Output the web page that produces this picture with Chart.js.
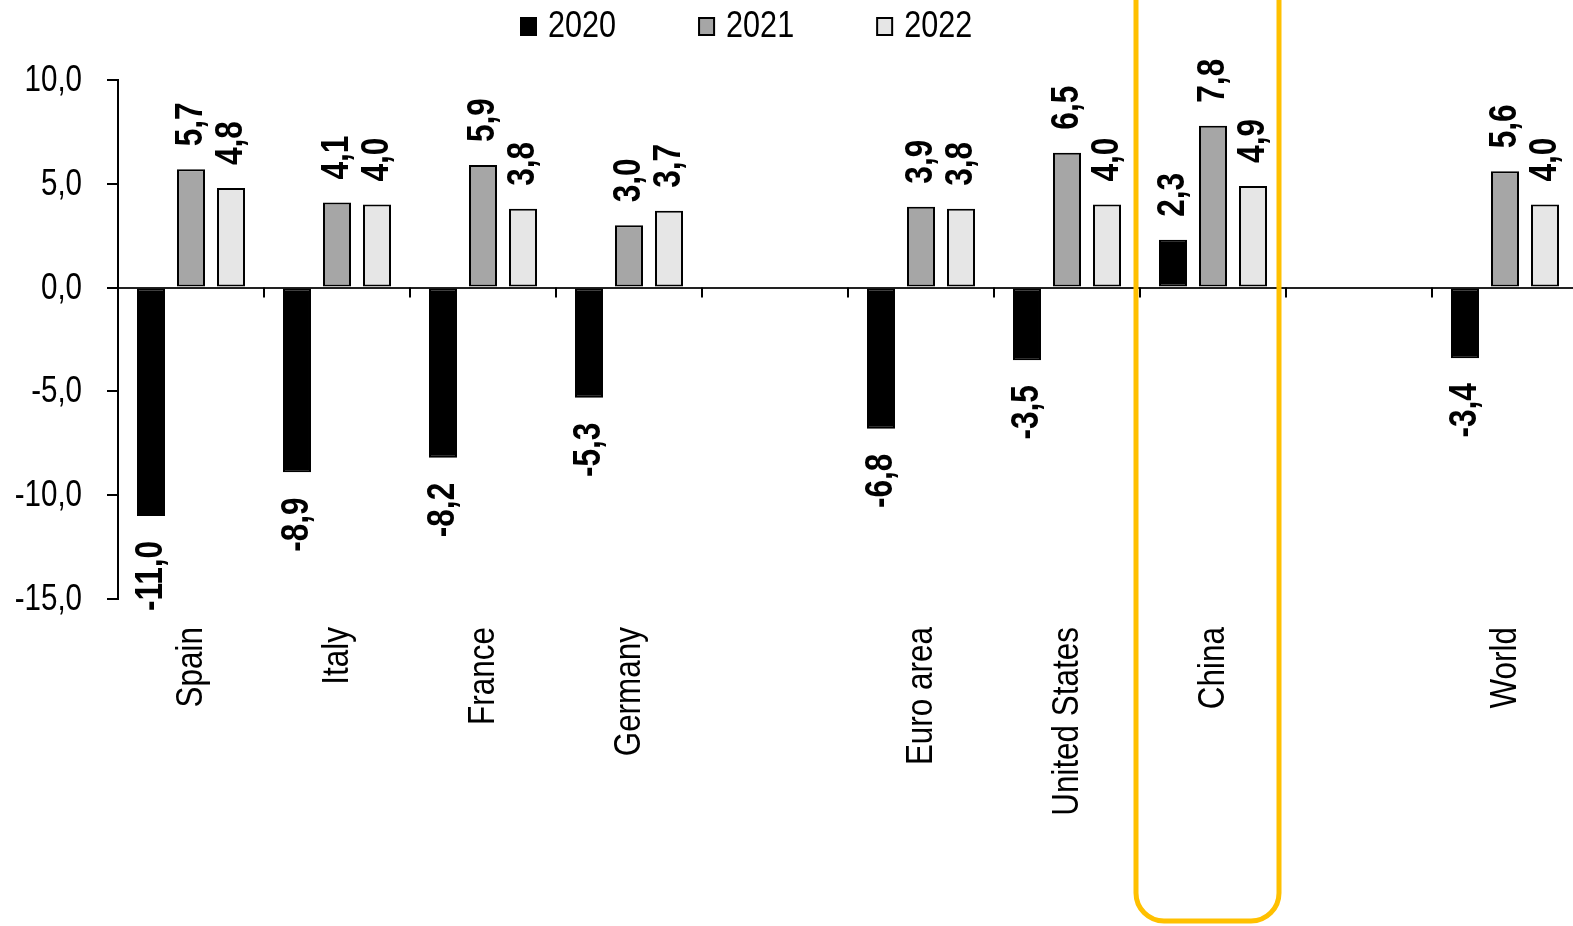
<!DOCTYPE html>
<html>
<head>
<meta charset="utf-8">
<script src="https://cdn.jsdelivr.net/npm/chart.js@4.4.1/dist/chart.umd.min.js"></script>
<style>
  html, body { margin: 0; padding: 0; background: #fff; overflow: hidden; }
  #wrap { width: 1580px; height: 926px; position: relative; }
</style>
</head>
<body>
<div id="wrap"><canvas id="growthChart"></canvas></div>
<script>
const categories = ['Spain', 'Italy', 'France', 'Germany', '', 'Euro area', 'United States', 'China', '', 'World'];
const seriesNames = ['2020', '2021', '2022'];
const values2020 = [-11.0, -8.9, -8.2, -5.3, null, -6.8, -3.5, 2.3, null, -3.4];
const values2021 = [5.7, 4.1, 5.9, 3.0, null, 3.9, 6.5, 7.8, null, 5.6];
const values2022 = [4.8, 4.0, 3.8, 3.7, null, 3.8, 4.0, 4.9, null, 4.0];
const yMin = -15, yMax = 10, yStep = 5;
const highlightCategory = 'China';

// no narrow face installed, so Liberation Sans is squeezed horizontally
const FONT = '"Liberation Sans", Arial, sans-serif';
const fillColors = ['#000000', '#a6a6a6', '#e6e6e6'];

Chart.defaults.font.family = FONT;
Chart.defaults.color = '#000';

function fmt(v) {
    return v.toFixed(1).replace('.', ',');
}

// draw text squeezed along its own direction; rotated = reads bottom to top
function narrowText(ctx, text, x, y, align, rotated, squeeze) {
    ctx.save();
    ctx.translate(x, y);
    if (rotated) ctx.rotate(-Math.PI / 2);
    ctx.scale(squeeze, 1);
    ctx.textAlign = align;
    ctx.fillText(text, 0, 0);
    ctx.restore();
}

// axis labels (y values and category names)
const axisLabels = {
    id: 'axisLabels',
    afterDraw(chart) {
        const ctx = chart.ctx;
        const x = chart.scales.x, y = chart.scales.y;
        ctx.save();
        ctx.fillStyle = '#000';
        ctx.textBaseline = 'middle';
        ctx.font = '36px ' + FONT;
        y.ticks.forEach((t, i) => {
            narrowText(ctx, fmt(t.value), chart.chartArea.left - 36, y.getPixelForTick(i) + 1, 'right', false, 0.82);
        });
        ctx.font = '37px ' + FONT;
        categories.forEach((c, i) => {
            if (!c) return;
            narrowText(ctx, c, x.getPixelForValue(i) + 1, chart.chartArea.bottom + 28, 'right', true, 0.85);
        });
        ctx.restore();
    }
};

// value labels, rotated, above positive bars and below negative ones
const valueLabels = {
    id: 'valueLabels',
    afterDatasetsDraw(chart) {
        const ctx = chart.ctx;
        ctx.save();
        ctx.font = 'bold 38px ' + FONT;
        ctx.fillStyle = '#000';
        ctx.textBaseline = 'middle';
        chart.data.datasets.forEach((ds, di) => {
            const meta = chart.getDatasetMeta(di);
            meta.data.forEach((bar, i) => {
                const v = ds.data[i];
                if (v === null || v === undefined) return;
                if (v >= 0) {
                    narrowText(ctx, fmt(v), bar.x + 1, bar.y - 23, 'left', true, 0.83);
                } else {
                    narrowText(ctx, fmt(v), bar.x + 1, bar.y + 25, 'right', true, 0.83);
                }
            });
        });
        ctx.restore();
    }
};

// small tick marks between categories on the zero line
const zeroTicks = {
    id: 'zeroTicks',
    afterDatasetsDraw(chart) {
        const x = chart.scales.x, y = chart.scales.y;
        const y0 = y.getPixelForValue(0);
        const ctx = chart.ctx;
        ctx.save();
        ctx.strokeStyle = '#000';
        ctx.lineWidth = 2;
        for (let i = 1; i < categories.length; i++) {
            const px = Math.round((x.getPixelForValue(i - 1) + x.getPixelForValue(i)) / 2);
            ctx.beginPath();
            ctx.moveTo(px, y0);
            ctx.lineTo(px, y0 + 10);
            ctx.stroke();
        }
        ctx.restore();
    }
};

// legend drawn by hand so the spacing matches
const customLegend = {
    id: 'customLegend',
    afterDraw(chart) {
        const ctx = chart.ctx;
        ctx.save();
        ctx.font = '36px ' + FONT;
        ctx.textBaseline = 'middle';
        let x = 520;
        const yc = 26;
        chart.data.datasets.forEach((ds) => {
            ctx.fillStyle = ds.backgroundColor;
            ctx.fillRect(x, yc - 9, 17, 19);
            ctx.lineWidth = 2;
            ctx.strokeStyle = '#000';
            ctx.strokeRect(x + 1, yc - 8, 15, 17);
            ctx.fillStyle = '#000';
            narrowText(ctx, ds.label, x + 28, yc + 1, 'left', false, 0.85);
            x += 28 + ctx.measureText(ds.label).width * 0.85 + 82;
        });
        ctx.restore();
    }
};

// rounded yellow frame around the highlighted category
const highlightBox = {
    id: 'highlightBox',
    afterDraw(chart) {
        const x = chart.scales.x;
        const idx = categories.indexOf(highlightCategory);
        const half = (x.getPixelForValue(1) - x.getPixelForValue(0)) / 2;
        const cx = x.getPixelForValue(idx) - 6;
        const l = cx - half + 2, r = cx + half - 1;
        const t = -40, b = 921, rad = 28;
        const ctx = chart.ctx;
        ctx.save();
        ctx.strokeStyle = '#ffc000';
        ctx.lineWidth = 5;
        ctx.beginPath();
        ctx.moveTo(l, t);
        ctx.lineTo(l, b - rad);
        ctx.arcTo(l, b, l + rad, b, rad);
        ctx.lineTo(r - rad, b);
        ctx.arcTo(r, b, r, b - rad, rad);
        ctx.lineTo(r, t);
        ctx.stroke();
        ctx.restore();
    }
};

const ctx = document.getElementById('growthChart').getContext('2d');
const growthChart = new Chart(ctx, {
    type: 'bar',
    data: {
        labels: categories,
        datasets: [
            { label: seriesNames[0], data: values2020, backgroundColor: fillColors[0], borderColor: '#000', borderWidth: 2, borderSkipped: false },
            { label: seriesNames[1], data: values2021, backgroundColor: fillColors[1], borderColor: '#000', borderWidth: 2, borderSkipped: false },
            { label: seriesNames[2], data: values2022, backgroundColor: fillColors[2], borderColor: '#000', borderWidth: 2, borderSkipped: false }
        ]
    },
    options: {
        responsive: true,
        maintainAspectRatio: false,
        animation: false,
        layout: { padding: { top: 80, right: 2, bottom: 0, left: 0 } },
        datasets: {
            bar: { categoryPercentage: 0.822, barPercentage: 0.7 }
        },
        plugins: {
            legend: { display: false },
            tooltip: { enabled: false }
        },
        scales: {
            x: {
                grid: { display: false, drawTicks: false },
                border: { display: false },
                ticks: { display: false, autoSkip: false },
                afterFit(scale) { scale.height = 327; }
            },
            y: {
                min: yMin,
                max: yMax,
                ticks: {
                    stepSize: yStep,
                    color: 'rgba(0,0,0,0)',
                    font: { size: 36 }
                },
                grid: {
                    color: c => (c.tick && c.tick.value === 0) ? '#222' : 'rgba(0,0,0,0)',
                    tickColor: '#000',
                    lineWidth: 2,
                    tickLength: 11,
                    drawTicks: true
                },
                border: { display: true, color: '#000', width: 2 },
                afterFit(scale) { scale.width = 118; }
            }
        }
    },
    plugins: [zeroTicks, valueLabels, axisLabels, customLegend, highlightBox]
});
</script>
</body>
</html>
